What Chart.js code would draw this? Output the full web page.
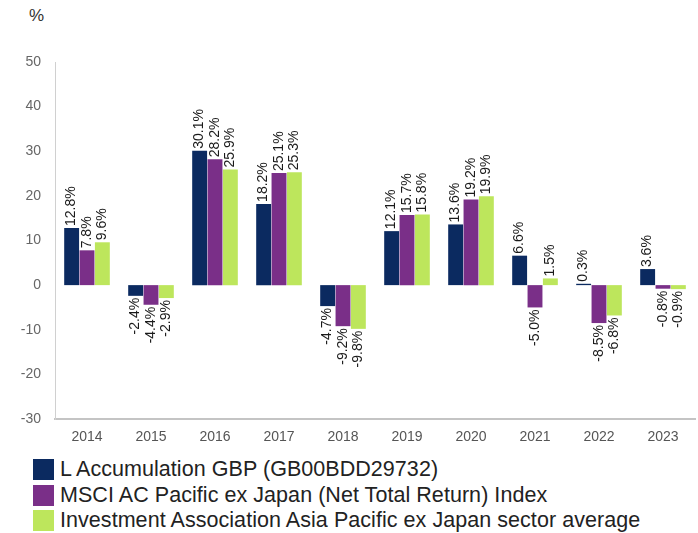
<!DOCTYPE html>
<html>
<head>
<meta charset="utf-8">
<script src="https://cdn.jsdelivr.net/npm/chart.js@4.4.1/dist/chart.umd.min.js"></script>
<style>
  body { margin: 0; background: #fff; font-family: "Liberation Sans", Arial, sans-serif; }
  #wrap { position: relative; width: 698px; height: 533px; }
  #chart-box { position: absolute; left: 0; top: 0; width: 698px; height: 445px; }
  #unit { position: absolute; left: 29px; top: 6px; font-size: 17px; color: #333; }
  #legend { position: absolute; left: 33px; top: 457px; }
  .item { display: flex; align-items: center; height: 25.5px; }
  .swatch { width: 21px; height: 21px; margin-right: 6px; flex: none; }
  .label { font-size: 21.5px; color: #222; white-space: nowrap; letter-spacing: 0.05px; }
</style>
</head>
<body>
<div id="wrap">
  <div id="unit">%</div>
  <div id="chart-box"><canvas id="myChart"></canvas></div>
  <div id="legend"></div>
</div>
<script>
// Data
const years = ['2014', '2015', '2016', '2017', '2018', '2019', '2020', '2021', '2022', '2023'];
const fundReturns = [12.8, -2.4, 30.1, 18.2, -4.7, 12.1, 13.6, 6.6, 0.3, 3.6];
const indexReturns = [7.8, -4.4, 28.2, 25.1, -9.2, 15.7, 19.2, -5.0, -8.5, -0.8];
const sectorReturns = [9.6, -2.9, 25.9, 25.3, -9.8, 15.8, 19.9, 1.5, -6.8, -0.9];
const seriesNames = [
    'L Accumulation GBP (GB00BDD29732)',
    'MSCI AC Pacific ex Japan (Net Total Return) Index',
    'Investment Association Asia Pacific ex Japan sector average'
];
const seriesColors = ['#0b2a60', '#7a2f88', '#bde65c'];

// Rotated value labels above / below each bar
const barLabels = {
    id: 'barLabels',
    afterDatasetsDraw(chart) {
        const ctx = chart.ctx;
        ctx.save();
        ctx.font = '14px "Liberation Sans", Arial, sans-serif';
        ctx.fillStyle = '#1a1a1a';
        ctx.textBaseline = 'middle';
        chart.data.datasets.forEach((ds, i) => {
            const meta = chart.getDatasetMeta(i);
            meta.data.forEach((bar, j) => {
                const v = ds.data[j];
                const text = v.toFixed(1) + '%';
                ctx.save();
                if (v >= 0) {
                    ctx.translate(bar.x, bar.y - 2);
                    ctx.rotate(-Math.PI / 2);
                    ctx.textAlign = 'left';
                } else {
                    ctx.translate(bar.x, bar.y + 2);
                    ctx.rotate(-Math.PI / 2);
                    ctx.textAlign = 'right';
                }
                ctx.fillText(text, 0, 0);
                ctx.restore();
            });
        });
        ctx.restore();
    }
};

function renderChart() {
    const ctx = document.getElementById('myChart').getContext('2d');
    return new Chart(ctx, {
        type: 'bar',
        data: {
            labels: years,
            datasets: [
                { label: seriesNames[0], data: fundReturns, backgroundColor: seriesColors[0] },
                { label: seriesNames[1], data: indexReturns, backgroundColor: seriesColors[1] },
                { label: seriesNames[2], data: sectorReturns, backgroundColor: seriesColors[2] }
            ]
        },
        options: {
            responsive: true,
            maintainAspectRatio: false,
            animation: false,
            datasets: { bar: { categoryPercentage: 0.72, barPercentage: 0.97 } },
            layout: { padding: { top: 62, right: 3, left: 0, bottom: 0 } },
            plugins: { legend: { display: false }, tooltip: { enabled: false } },
            scales: {
                x: {
                    grid: { display: false },
                    border: { display: true, color: '#c4c4c4', width: 2 },
                    ticks: { color: '#555', font: { size: 14, family: '"Liberation Sans", Arial, sans-serif' }, padding: 2 },
                    afterFit(scale) { scale.height = 26; }
                },
                y: {
                    min: -30,
                    max: 50,
                    grid: { display: false },
                    border: { display: true, color: '#d0d0d0', width: 1 },
                    ticks: { stepSize: 10, color: '#666', font: { size: 14, family: '"Liberation Sans", Arial, sans-serif' }, padding: 6 },
                    afterFit(scale) { scale.width = 55; }
                }
            }
        },
        plugins: [barLabels]
    });
}

function buildLegend() {
    const box = document.getElementById('legend');
    seriesNames.forEach((name, i) => {
        const item = document.createElement('div');
        item.className = 'item';
        item.innerHTML = `<span class="swatch" style="background:${seriesColors[i]}"></span><span class="label">${name}</span>`;
        box.appendChild(item);
    });
}

renderChart();
buildLegend();
</script>
</body>
</html>
